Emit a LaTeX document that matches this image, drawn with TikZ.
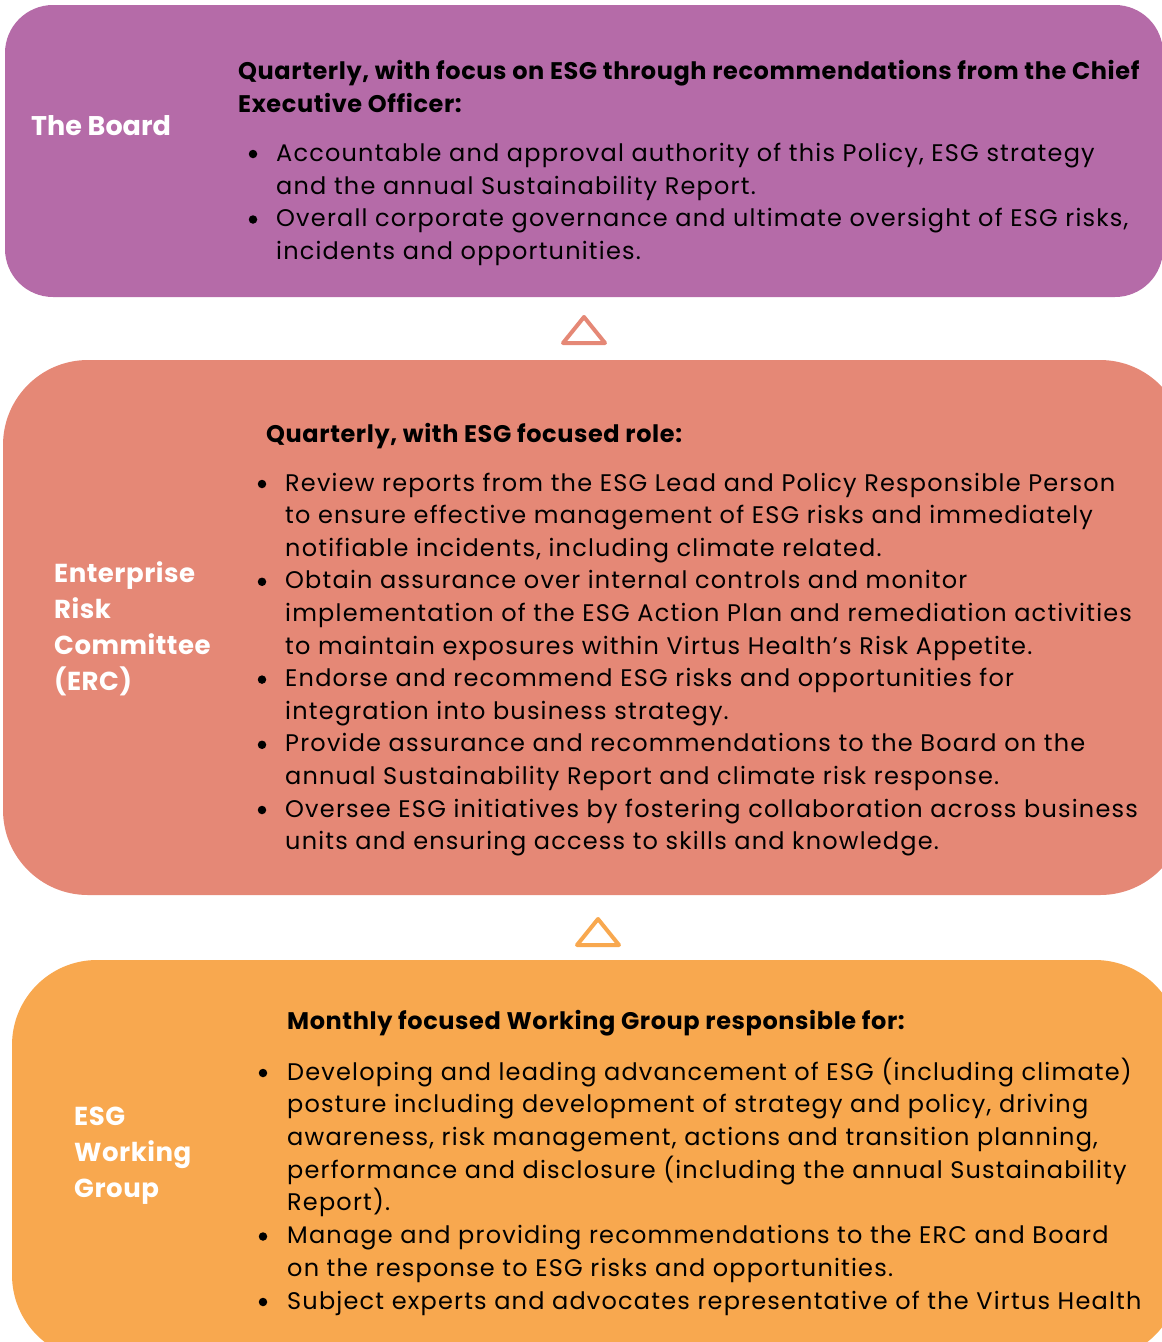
\documentclass[tikz,border=0pt]{standalone}
\usepackage{fontspec}
\setmainfont{Poppins}
\newfontfamily\bodyfont[LetterSpace=5.0]{Poppins}
\newfontfamily\headfont[LetterSpace=2.5]{Poppins}
\newfontfamily\ttlfont[LetterSpace=2.0]{Poppins}
\definecolor{cBoard}{HTML}{B56BA8}
\definecolor{cErc}{HTML}{E58876}
\definecolor{cEsg}{HTML}{F8A84F}
\begin{document}
\begin{tikzpicture}[x=1pt,y=-1pt,
  body/.style={anchor=base west, inner sep=0pt, text=black, font=\bodyfont\fontsize{24}{28}\selectfont},
  head/.style={anchor=base west, inner sep=0pt, text=black, font=\headfont\fontsize{24}{28}\selectfont\bfseries},
  ttl/.style={anchor=base west, inner sep=0pt, text=white, font=\ttlfont\fontsize{26}{30}\selectfont\bfseries},
  dotmark/.style={circle, fill=black, inner sep=0pt, minimum size=8.5pt},
  tri/.style={line width=4pt, line join=round}]
\useasboundingbox (0,0) rectangle (1162,1342);
\clip (0,0) rectangle (1162,1342);
% boxes
\fill[cBoard, rounded corners=48pt] (5,5) rectangle (1163,297);
\fill[cErc, rounded corners=85pt] (3,360) rectangle (1185,895);
\fill[cEsg, rounded corners=85pt] (12,960) rectangle (1180,1360);
% triangles
\draw[tri, cErc] (563,343) -- (584,317) -- (605,343) -- cycle;
\draw[tri, cEsg] (577,945) -- (598,919) -- (619,945) -- cycle;
% Board
\node[ttl, font=\fontsize{27}{32}\selectfont\bfseries] (tb) at (31,135) {The Board};
\node[head] (bh1) at (238,79) {Quarterly, with focus on ESG through recommendations from the Chief};
\node[head] (bh2) at (238,112) {Executive Officer:};
\node[dotmark] (bd1) at (253,154) {};
\node[body] (b1) at (276,161) {Accountable and approval authority of this Policy, ESG strategy};
\node[body] (b2) at (276,194) {and the annual Sustainability Report.};
\node[dotmark] (bd2) at (253,219.5) {};
\node[body] (b3) at (276,226.5) {Overall corporate governance and ultimate oversight of ESG risks,};
\node[body] (b4) at (276,259) {incidents and opportunities.};
% ERC
\node[ttl] (et1) at (54,582) {Enterprise};
\node[ttl] (et2) at (54,618) {Risk};
\node[ttl] (et3) at (54,654) {Committee};
\node[ttl] (et4) at (54,690) {(ERC)};
\node[head] (eh) at (266,442) {Quarterly, with ESG focused role:};
\node[dotmark] (ed1) at (262,484) {};
\node[body] (e1) at (285,491) {Review reports from the ESG Lead and Policy Responsible Person};
\node[body] (e2) at (285,523.6) {to ensure effective management of ESG risks and immediately};
\node[body] (e3) at (285,556.2) {notifiable incidents, including climate related.};
\node[dotmark] (ed2) at (262,581.8) {};
\node[body] (e4) at (285,588.8) {Obtain assurance over internal controls and monitor};
\node[body] (e5) at (285,621.4) {implementation of the ESG Action Plan and remediation activities};
\node[body] (e6) at (285,654) {to maintain exposures within Virtus Health’s Risk Appetite.};
\node[dotmark] (ed3) at (262,679.6) {};
\node[body] (e7) at (285,686.6) {Endorse and recommend ESG risks and opportunities for};
\node[body] (e8) at (285,719.2) {integration into business strategy.};
\node[dotmark] (ed4) at (262,744.8) {};
\node[body] (e9) at (285,751.8) {Provide assurance and recommendations to the Board on the};
\node[body] (e10) at (285,784.4) {annual Sustainability Report and climate risk response.};
\node[dotmark] (ed5) at (262,810) {};
\node[body] (e11) at (285,817) {Oversee ESG initiatives by fostering collaboration across business};
\node[body] (e12) at (285,849.6) {units and ensuring access to skills and knowledge.};
% ESG
\node[ttl] (gt1) at (74,1125) {ESG};
\node[ttl] (gt2) at (74,1161) {Working};
\node[ttl] (gt3) at (74,1197) {Group};
\node[head] (gh) at (287,1029) {Monthly focused Working Group responsible for:};
\node[dotmark] (gd1) at (263,1073) {};
\node[body] (g1) at (287,1080) {Developing and leading advancement of ESG (including climate)};
\node[body] (g2) at (287,1112.7) {posture including development of strategy and policy, driving};
\node[body] (g3) at (287,1145.4) {awareness, risk management, actions and transition planning,};
\node[body] (g4) at (287,1178) {performance and disclosure (including the annual Sustainability};
\node[body] (g5) at (287,1210.8) {Report).};
\node[dotmark] (gd2) at (263,1236.5) {};
\node[body] (g6) at (287,1243.5) {Manage and providing recommendations to the ERC and Board};
\node[body] (g7) at (287,1276) {on the response to ESG risks and opportunities.};
\node[dotmark] (gd3) at (263,1302) {};
\node[body] (g8) at (287,1309) {Subject experts and advocates representative of the Virtus Health};
\end{tikzpicture}
\end{document}
